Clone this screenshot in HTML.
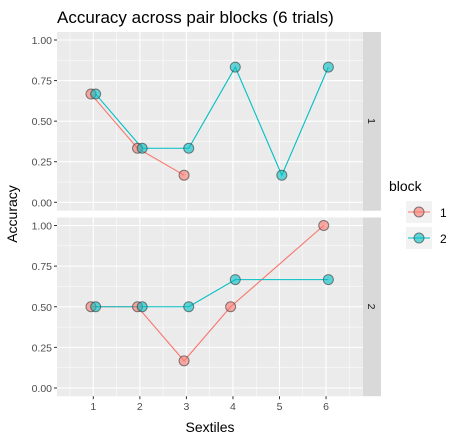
<!DOCTYPE html>
<html><head><meta charset="utf-8"><style>
body{margin:0;background:#fff;}
text{font-family:"Liberation Sans",sans-serif;}
</style></head><body>
<svg id="chart" width="462" height="443" xmlns="http://www.w3.org/2000/svg">
<text x="57" y="23" font-size="17" fill="#000">Accuracy across pair blocks (6 trials)</text>
<text x="210" y="432" font-size="14" text-anchor="middle">Sextiles</text>
<text transform="translate(17,214) rotate(-90)" font-size="14" text-anchor="middle">Accuracy</text>
<g id="panels"></g>
<g>
<text x="389" y="191" font-size="14">block</text>
<rect x="406" y="201" width="26" height="22" fill="#f2f2f2"/>
<rect x="406" y="227" width="26" height="22" fill="#f2f2f2"/>
<line x1="408" y1="212" x2="430" y2="212" stroke="#F8766D"/>
<circle cx="419" cy="212" r="5" fill="rgba(248,118,109,0.6)" stroke="#333" stroke-opacity="0.6"/>
<line x1="408" y1="238" x2="430" y2="238" stroke="#00BFC4"/>
<circle cx="419" cy="238" r="5" fill="rgba(0,191,196,0.6)" stroke="#333" stroke-opacity="0.6"/>
<text x="440" y="217" font-size="12">1</text>
<text x="440" y="243" font-size="12">2</text>
</g>
</svg>
<script>
const sextiles=[1,2,3,4,5,6];
const yTicks=[0,0.25,0.5,0.75,1];
const yTickLabels=["0.00","0.25","0.50","0.75","1.00"];
const p1b1x=[1,2,3], p1b1y=[0.667,0.333,0.167];
const p1b2x=[1,2,3,4,5,6], p1b2y=[0.667,0.333,0.333,0.833,0.167,0.833];
const p2b1x=[1,2,3,4,6], p2b1y=[0.5,0.5,0.167,0.5,1.0];
const p2b2x=[1,2,3,4,6], p2b2y=[0.5,0.5,0.5,0.667,0.667];
const NS="http://www.w3.org/2000/svg";
const g=document.getElementById('panels');
const L=57,R=363;
const xs=x=>93.3+(x-1)*46.55;
function mk(t,a,p){const e=document.createElementNS(NS,t);for(const k in a)e.setAttribute(k,a[k]);(p||g).appendChild(e);return e;}
const panels=[{top:32,y0:202.3,y1:40,label:"1",s:[[p1b1x,p1b1y,"248,118,109","#F8766D",-0.05],[p1b2x,p1b2y,"0,191,196","#00BFC4",0.05]]},
{top:217.5,y0:388,y1:225.5,label:"2",s:[[p2b1x,p2b1y,"248,118,109","#F8766D",-0.05],[p2b2x,p2b2y,"0,191,196","#00BFC4",0.05]]}];
panels.forEach((P,pi)=>{
 const ys=v=>P.y0+(P.y1-P.y0)*v;
 const bot=P.top+178.7;
 const bg=mk('rect',{x:L,y:P.top,width:R-L,height:178.7,fill:'#ebebeb'});
 
 
 for(let i=0;i<yTicks.length-1;i++){const v=(yTicks[i]+yTicks[i+1])/2;mk('line',{x1:L,x2:R,y1:ys(v),y2:ys(v),stroke:'#fff','stroke-width':0.5});}
 for(let i=0;i<sextiles.length+1;i++){const v=sextiles[0]-0.5+i;const xv=xs(v);if(xv>L&&xv<R)mk('line',{x1:xv,x2:xv,y1:P.top,y2:bot,stroke:'#fff','stroke-width':0.5});}
 yTicks.forEach((v,i)=>{mk('line',{x1:L,x2:R,y1:ys(v),y2:ys(v),stroke:'#fff','stroke-width':1.1});
  mk('line',{x1:L-3,x2:L,y1:ys(v),y2:ys(v),stroke:'#333'});
  const t=mk('text',{x:L-5,y:ys(v)+4,'font-size':10.5,fill:'#4d4d4d','text-anchor':'end'});t.textContent=yTickLabels[i];
  
  });
 sextiles.forEach(v=>mk('line',{x1:xs(v),x2:xs(v),y1:P.top,y2:bot,stroke:'#fff','stroke-width':1.1}));
 const st=mk('rect',{x:R,y:P.top,width:18,height:178.7,fill:'#d9d9d9'});
 
 
 const stt=mk('text',{transform:`translate(${R+5},${P.top+89}) rotate(90)`,'font-size':10.5,fill:'#1a1a1a','text-anchor':'middle'});stt.textContent=P.label;
 P.s.forEach(([X,Y,rgb,col,d],si)=>{
  const pts=X.map((x,i)=>xs(x+d)+','+ys(Y[i])).join(' ');
  const pl=mk('polyline',{points:pts,fill:'none',stroke:col,'stroke-width':1.1});
  
  
 });
 P.s.forEach(([X,Y,rgb,col,d],si)=>{
  X.forEach((x,i)=>{const c=mk('circle',{cx:xs(x+d),cy:ys(Y[i]),r:5,fill:`rgba(${rgb},0.6)`,stroke:'#333','stroke-opacity':0.6});
   
   });
 });
 if(pi===1){sextiles.forEach(v=>{mk('line',{x1:xs(v),x2:xs(v),y1:bot,y2:bot+3,stroke:'#333'});
  const t=mk('text',{x:xs(v),y:bot+14,'font-size':10.5,fill:'#4d4d4d','text-anchor':'middle'});t.textContent=v;
  
  });}
});
</script>
</body></html>
